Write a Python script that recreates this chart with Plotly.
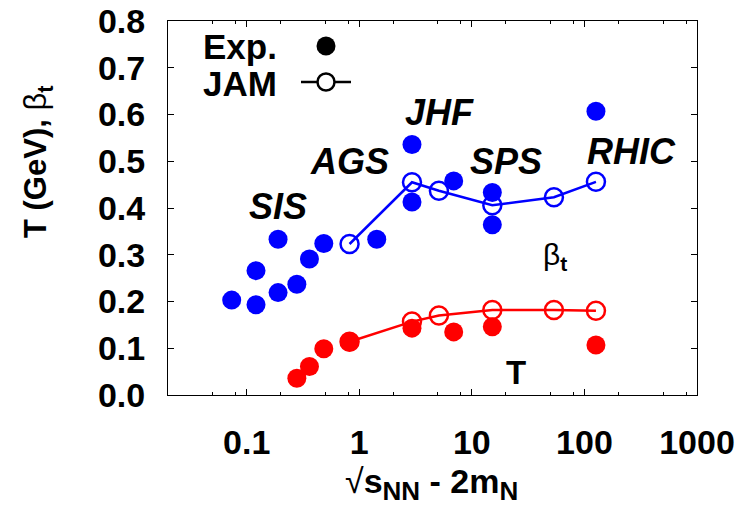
import math
import plotly.graph_objects as go

# ---------------- data ----------------
exp_bt_x = [0.0736, 0.121, 0.121, 0.19, 0.19, 0.279, 0.361, 0.484, 1.43, 2.94, 2.94, 6.9, 15.2, 15.2, 126.6]
exp_bt_y = [0.203, 0.193, 0.266, 0.333, 0.219, 0.237, 0.291, 0.324, 0.333, 0.413, 0.536, 0.458, 0.433, 0.364, 0.607]

jam_bt_x = [0.82, 2.94, 5.1, 15.2, 53.6, 126.6]
jam_bt_y = [0.323, 0.455, 0.437, 0.406, 0.423, 0.456]

exp_T_x = [0.279, 0.361, 0.484, 0.82, 2.94, 6.9, 15.2, 126.6]
exp_T_y = [0.036, 0.061, 0.099, 0.114, 0.143, 0.135, 0.146, 0.107]

jam_T_x = [0.82, 2.94, 5.1, 15.2, 53.6, 126.6]
jam_T_y = [0.114, 0.157, 0.170, 0.182, 0.182, 0.180]

x_tickvals = [0.1, 1, 10, 100, 1000]
x_ticktext = ["0.1", "1", "10", "100", "1000"]
x_minor = [m * 10 ** e for e in range(-2, 3) for m in (2, 5, 8) if 0.02 < m * 10 ** e < 1000]
y_tickvals = [0.0, 0.1, 0.2, 0.3, 0.4, 0.5, 0.6, 0.7, 0.8]
y_ticktext = ["0.0", "0.1", "0.2", "0.3", "0.4", "0.5", "0.6", "0.7", "0.8"]

labels = [
    ("SIS", 0.189, 0.403),
    ("AGS", 0.822, 0.499),
    ("JHF", 5.18, 0.605),
    ("SPS", 20.3, 0.499),
    ("RHIC", 263, 0.520),
]

BLUE = "#0000ff"
RED = "#ff0000"
FONT = "Liberation Sans, Arial, sans-serif"

fig = go.Figure()

# JAM lines (open circles)
fig.add_trace(go.Scatter(x=jam_bt_x, y=jam_bt_y, mode="lines+markers",
                         line=dict(color=BLUE, width=2.5),
                         marker=dict(symbol="circle-open", size=18, color=BLUE, line=dict(width=2.5)),
                         showlegend=False))
fig.add_trace(go.Scatter(x=jam_T_x, y=jam_T_y, mode="lines+markers",
                         line=dict(color=RED, width=2.5),
                         marker=dict(symbol="circle-open", size=18, color=RED, line=dict(width=2.5)),
                         showlegend=False))
# Experimental points (filled)
fig.add_trace(go.Scatter(x=exp_bt_x, y=exp_bt_y, mode="markers",
                         marker=dict(symbol="circle", size=19, color=BLUE),
                         showlegend=False))
fig.add_trace(go.Scatter(x=exp_T_x, y=exp_T_y, mode="markers",
                         marker=dict(symbol="circle", size=19, color=RED),
                         showlegend=False))

# experiment labels
for txt, lx, ly in labels:
    fig.add_annotation(x=math.log10(lx), y=ly, xref="x", yref="y", text=txt, showarrow=False,
                       xanchor="center", yanchor="middle",
                       font=dict(family=FONT, size=36, color="black", weight="bold", style="italic"))

fig.add_annotation(x=math.log10(54.7), y=0.296, xref="x", yref="y",
                   text="β<sub><b>t</b></sub>", showarrow=False,
                   xanchor="center", yanchor="middle",
                   font=dict(family=FONT, size=30, color="black"))
fig.add_annotation(x=math.log10(24.5), y=0.049, xref="x", yref="y",
                   text="<b>T</b>", showarrow=False,
                   xanchor="center", yanchor="middle",
                   font=dict(family=FONT, size=33, color="black"))

# legend (drawn manually, text left of symbol)
W, H = 742, 508
L, R, T, B = 168, 45, 21, 113
PW, PH = W - L - R, H - T - B


def px(xp):
    return (xp - L) / PW


def py(yp):
    return (H - B - yp) / PH


fig.add_annotation(x=px(279), y=py(46), xref="paper", yref="paper", xanchor="right", yanchor="middle",
                   text="<b>Exp.</b>", showarrow=False,
                   font=dict(family=FONT, size=35, color="black"))
fig.add_annotation(x=px(279), y=py(83), xref="paper", yref="paper", xanchor="right", yanchor="middle",
                   text="<b>JAM</b>", showarrow=False,
                   font=dict(family=FONT, size=35, color="black"))
fig.add_shape(type="circle", xref="paper", yref="paper", xsizemode="pixel", ysizemode="pixel",
              xanchor=px(326), yanchor=py(46), x0=-9.5, x1=9.5, y0=-9.5, y1=9.5,
              fillcolor="black", line=dict(color="black", width=0))
fig.add_shape(type="line", xref="paper", yref="paper", x0=px(301), x1=px(351), y0=py(82), y1=py(82),
              line=dict(color="black", width=2.5))
fig.add_shape(type="circle", xref="paper", yref="paper", xsizemode="pixel", ysizemode="pixel",
              xanchor=px(326), yanchor=py(82), x0=-8.5, x1=8.5, y0=-8.5, y1=8.5,
              fillcolor="white", line=dict(color="black", width=2.5))

# axis titles
fig.add_annotation(x=px(38), y=py(162), xref="paper", yref="paper", textangle=-90,
                   xanchor="center", yanchor="middle",
                   text="<b>T (GeV), </b>β<sub><b>t</b></sub>", showarrow=False,
                   font=dict(family=FONT, size=31, color="black"))
fig.add_annotation(x=px(431), y=py(484), xref="paper", yref="paper",
                   xanchor="center", yanchor="middle",
                   text=("√<b>s<sub><span style='font-size:26px'>NN</span></sub>"
                         " - 2m<sub><span style='font-size:26px'>N</span></sub></b>"),
                   showarrow=False,
                   font=dict(family=FONT, size=34, color="black"))

fig.update_xaxes(type="log", range=[math.log10(0.02), 3], automargin=False,
                 tickmode="array", tickvals=x_tickvals, ticktext=x_ticktext,
                 ticks="inside", ticklen=6, tickcolor="black", tickwidth=1,
                 minor=dict(tickmode="array", tickvals=x_minor, ticks="inside", ticklen=3,
                            tickcolor="black", tickwidth=1, showgrid=False),
                 showline=True, linecolor="black", linewidth=1, mirror="ticks",
                 showgrid=False, zeroline=False, ticklabelstandoff=17,
                 tickfont=dict(family=FONT, size=34, color="black", weight="bold"))
fig.update_yaxes(range=[0, 0.8], automargin=False,
                 tickmode="array", tickvals=y_tickvals, ticktext=y_ticktext,
                 ticks="inside", ticklen=6, tickcolor="black", tickwidth=1,
                 showline=True, linecolor="black", linewidth=1, mirror="ticks",
                 showgrid=False, zeroline=False, ticklabelstandoff=15,
                 tickfont=dict(family=FONT, size=34, color="black", weight="bold"))

fig.update_layout(width=W, height=H, margin=dict(l=L, r=R, t=T, b=B),
                  plot_bgcolor="white", paper_bgcolor="white", showlegend=False)

fig.write_html("out.html")
